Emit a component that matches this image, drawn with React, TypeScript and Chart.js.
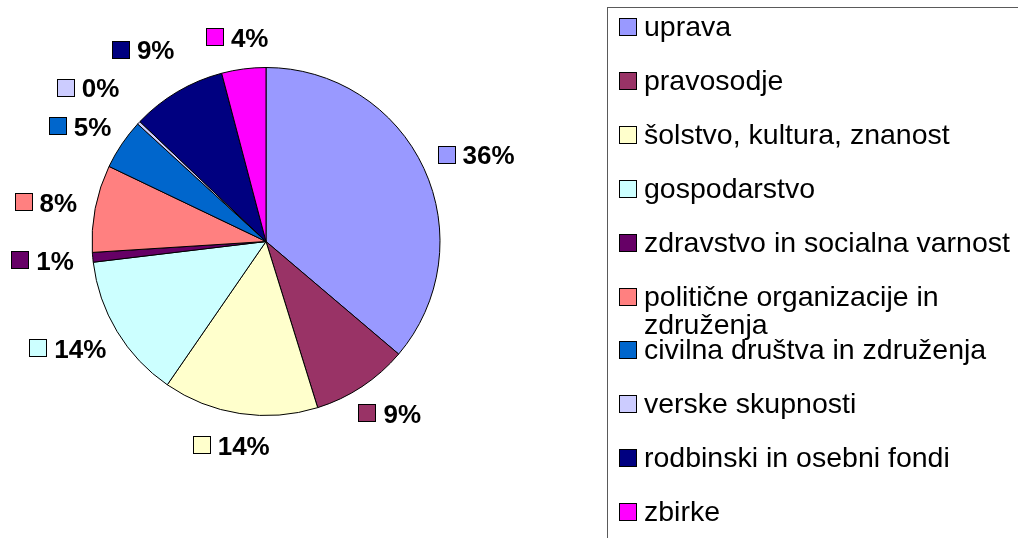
import React, { useEffect, useRef } from "react";
import { Chart, registerables } from "chart.js";

Chart.register(...registerables);

const categories = [
  "uprava",
  "pravosodje",
  "šolstvo, kultura, znanost",
  "gospodarstvo",
  "zdravstvo in socialna varnost",
  "politične organizacije in združenja",
  "civilna društva in združenja",
  "verske skupnosti",
  "rodbinski in osebni fondi",
  "zbirke",
];

const shares = [36.2, 9.0, 14.4, 13.5, 0.9, 8.1, 4.7, 0.3, 8.8, 4.1];

const sliceColors = [
  "#9999FF",
  "#993366",
  "#FFFFCC",
  "#CCFFFF",
  "#660066",
  "#FF8080",
  "#0066CC",
  "#CCCCFF",
  "#000080",
  "#FF00FF",
];

const FONT = "'Liberation Sans', Arial, Helvetica, sans-serif";

const outLabelsPlugin = {
  id: "outLabels",
  afterDatasetsDraw(chart: any) {
    const ctx = chart.ctx as CanvasRenderingContext2D;
    const meta = chart.getDatasetMeta(0);
    const data = chart.data.datasets[0].data as number[];
    const colors = chart.data.datasets[0].backgroundColor as string[];
    const total = data.reduce((a, b) => a + b, 0);
    ctx.save();
    ctx.font = `bold 26px ${FONT}`;
    const placed: any[] = [];
    const sq = 18;
    const gap = 7;
    const h = 26;
    const pad = 12;
    meta.data.forEach((arc: any, i: number) => {
      const { x, y, startAngle, endAngle, outerRadius } = arc.getProps(
        ["x", "y", "startAngle", "endAngle", "outerRadius"],
        true
      );
      const mid = (startAngle + endAngle) / 2;
      const c = Math.cos(mid);
      const s = Math.sin(mid);
      const text = Math.round((data[i] / total) * 100) + "%";
      const tw = ctx.measureText(text).width;
      const w = sq + gap + tw;
      let d = outerRadius + 19;
      let box: any = null;
      for (let k = 0; k < 80; k++) {
        const px = x + c * d;
        const py = y + s * d;
        const cx = px + (c * w) / 2;
        const cy = py + (s * h) / 2;
        box = { l: cx - w / 2, r: cx + w / 2, t: cy - h / 2, b: cy + h / 2, cy };
        const hit = placed.some(
          (p) => box.l < p.r + pad && box.r > p.l - pad && box.t < p.b + pad && box.b > p.t - pad
        );
        if (!hit) break;
        d += 1;
      }
      placed.push(box);
      const sx = Math.round(box.l) + 0.5;
      const sy = Math.round(box.cy - sq / 2) + 0.5;
      ctx.fillStyle = colors[i];
      ctx.fillRect(sx, sy, sq - 1, sq - 1);
      ctx.strokeStyle = "#000";
      ctx.lineWidth = 1;
      ctx.strokeRect(sx, sy, sq - 1, sq - 1);
      ctx.fillStyle = "#000";
      ctx.textAlign = "left";
      ctx.textBaseline = "alphabetic";
      ctx.fillText(text, box.l + sq + gap, box.cy + 9.5);
    });
    ctx.restore();
  },
};

const boxLegendPlugin = {
  id: "boxLegend",
  afterDraw(chart: any) {
    const ctx = chart.ctx as CanvasRenderingContext2D;
    const labels = chart.data.labels as string[];
    const colors = chart.data.datasets[0].backgroundColor as string[];
    ctx.save();
    ctx.strokeStyle = "#5a5a5a";
    ctx.lineWidth = 1;
    ctx.strokeRect(607.5, 7.5, 600, 700);
    ctx.font = `28.5px ${FONT}`;
    ctx.textAlign = "left";
    ctx.textBaseline = "alphabetic";
    const maxW = 368;
    labels.forEach((lab, i) => {
      const cy = 27 + 53.9 * i;
      const sx = 619.5;
      const sy = Math.round(cy - 9) + 0.5;
      ctx.fillStyle = colors[i];
      ctx.fillRect(sx, sy, 17, 17);
      ctx.strokeStyle = "#000";
      ctx.strokeRect(sx, sy, 17, 17);
      const words = lab.split(" ");
      const lines: string[] = [];
      let cur = "";
      words.forEach((wd) => {
        const t = cur ? cur + " " + wd : wd;
        if (ctx.measureText(t).width > maxW && cur) {
          lines.push(cur);
          cur = wd;
        } else cur = t;
      });
      if (cur) lines.push(cur);
      ctx.fillStyle = "#000";
      lines.forEach((ln, j) => {
        ctx.fillText(ln, 644, cy + 9 + j * 28);
      });
    });
    ctx.restore();
  },
};

export default function App() {
  const ref = useRef<HTMLCanvasElement | null>(null);
  useEffect(() => {
    document.body.style.margin = "0";
    const chart = new Chart(ref.current as HTMLCanvasElement, {
      type: "pie",
      data: {
        labels: categories,
        datasets: [
          {
            data: shares,
            backgroundColor: sliceColors,
            borderColor: "#000",
            borderWidth: 1,
            hoverOffset: 0,
          },
        ],
      },
      options: {
        responsive: false,
        devicePixelRatio: 1,
        animation: false,
        layout: { padding: { left: 90, right: 576, top: 67, bottom: 122 } },
        plugins: {
          legend: { display: false },
          tooltip: { enabled: false },
        },
      },
      plugins: [outLabelsPlugin, boxLegendPlugin],
    } as any);
    return () => chart.destroy();
  }, []);
  return (
    <div style={{ width: 1018, height: 538, background: "#fff" }}>
      <canvas ref={ref} width={1018} height={538} style={{ display: "block", width: 1018, height: 538 }} />
    </div>
  );
}
